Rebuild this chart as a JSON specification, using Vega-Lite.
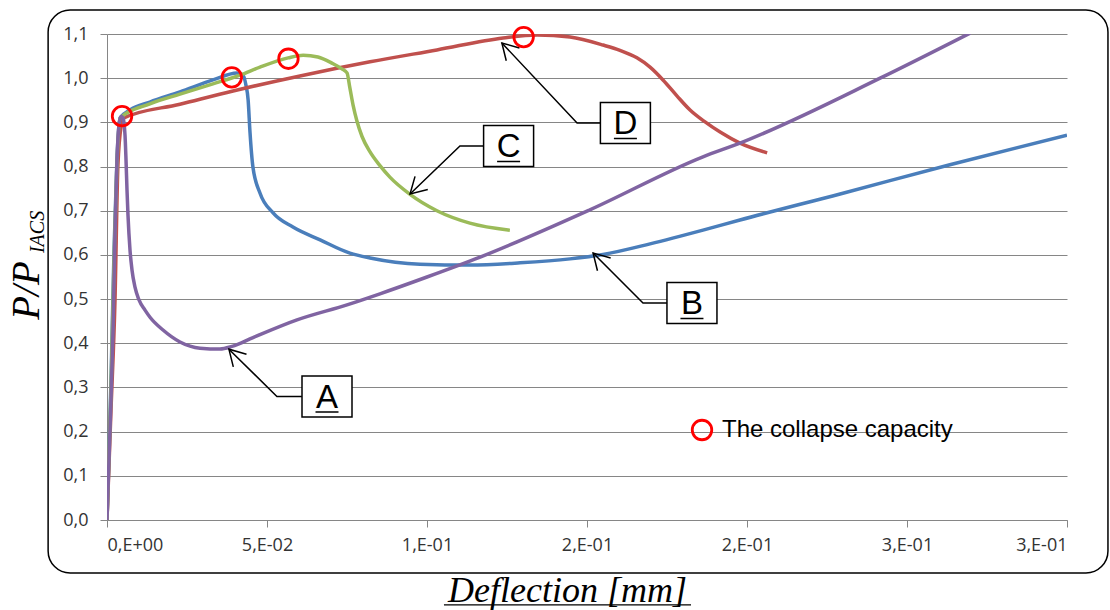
{
  "$schema": "https://vega.github.io/schema/vega-lite/v6.json",
  "width": 960,
  "height": 486,
  "autosize": {"type": "none"},
  "padding": {"left": 107, "top": 34, "right": 43, "bottom": 90},
  "background": "white",
  "config": {"view": {"stroke": null}},
  "datasets": {
    "curves": [
      {"s":"B","x":0,"y":0},{"s":"B","x":0.00125,"y":0.317},{"s":"B","x":0.0022,"y":0.611},{"s":"B","x":0.0031,"y":0.815},{"s":"B","x":0.0041,"y":0.91},{"s":"B","x":0.0072,"y":0.928},{"s":"B","x":0.0134,"y":0.946},{"s":"B","x":0.0228,"y":0.969},{"s":"B","x":0.0331,"y":0.996},{"s":"B","x":0.0406,"y":1.012},{"s":"B","x":0.0425,"y":1.007},{"s":"B","x":0.0434,"y":0.985},{"s":"B","x":0.0441,"y":0.951},{"s":"B","x":0.0447,"y":0.876},{"s":"B","x":0.0456,"y":0.799},{"s":"B","x":0.0478,"y":0.74},{"s":"B","x":0.0519,"y":0.695},{"s":"B","x":0.0581,"y":0.663},{"s":"B","x":0.0666,"y":0.634},{"s":"B","x":0.0759,"y":0.604},{"s":"B","x":0.0822,"y":0.593},{"s":"B","x":0.0978,"y":0.579},{"s":"B","x":0.1134,"y":0.577},{"s":"B","x":0.1291,"y":0.582},{"s":"B","x":0.1447,"y":0.591},{"s":"B","x":0.155,"y":0.601},{"s":"B","x":0.1697,"y":0.625},{"s":"B","x":0.18625,"y":0.656},{"s":"B","x":0.1978,"y":0.679},{"s":"B","x":0.2291,"y":0.738},{"s":"B","x":0.2634,"y":0.804},{"s":"B","x":0.3,"y":0.871},
      {"s":"D","x":0,"y":0},{"s":"D","x":0.00125,"y":0.249},{"s":"D","x":0.0025,"y":0.498},{"s":"D","x":0.0034,"y":0.8},{"s":"D","x":0.0044,"y":0.89},{"s":"D","x":0.0053,"y":0.91},{"s":"D","x":0.0228,"y":0.941},{"s":"D","x":0.0394,"y":0.971},{"s":"D","x":0.0603,"y":1.005},{"s":"D","x":0.0822,"y":1.037},{"s":"D","x":0.1031,"y":1.064},{"s":"D","x":0.1238,"y":1.091},{"s":"D","x":0.1344,"y":1.098},{"s":"D","x":0.1447,"y":1.093},{"s":"D","x":0.155,"y":1.075},{"s":"D","x":0.1603,"y":1.063},{"s":"D","x":0.1656,"y":1.046},{"s":"D","x":0.1697,"y":1.025},{"s":"D","x":0.17375,"y":0.996},{"s":"D","x":0.1781,"y":0.96},{"s":"D","x":0.1822,"y":0.928},{"s":"D","x":0.1869,"y":0.901},{"s":"D","x":0.1916,"y":0.878},{"s":"D","x":0.1978,"y":0.853},{"s":"D","x":0.2063,"y":0.831},
      {"s":"C","x":0,"y":0},{"s":"C","x":0.00125,"y":0.294},{"s":"C","x":0.0022,"y":0.588},{"s":"C","x":0.0031,"y":0.804},{"s":"C","x":0.0041,"y":0.91},{"s":"C","x":0.0134,"y":0.942},{"s":"C","x":0.0228,"y":0.964},{"s":"C","x":0.0331,"y":0.987},{"s":"C","x":0.0416,"y":1.007},{"s":"C","x":0.0478,"y":1.025},{"s":"C","x":0.0566,"y":1.046},{"s":"C","x":0.0613,"y":1.052},{"s":"C","x":0.0659,"y":1.048},{"s":"C","x":0.0703,"y":1.034},{"s":"C","x":0.0734,"y":1.021},{"s":"C","x":0.075,"y":1.012},{"s":"C","x":0.0759,"y":0.978},{"s":"C","x":0.0769,"y":0.939},{"s":"C","x":0.0781,"y":0.903},{"s":"C","x":0.0797,"y":0.868},{"s":"C","x":0.0822,"y":0.833},{"s":"C","x":0.0853,"y":0.802},{"s":"C","x":0.0884,"y":0.776},{"s":"C","x":0.0947,"y":0.737},{"s":"C","x":0.1031,"y":0.7},{"s":"C","x":0.1134,"y":0.672},{"s":"C","x":0.1259,"y":0.656},
      {"s":"A","x":0,"y":0},{"s":"A","x":0.00094,"y":0.204},{"s":"A","x":0.00188,"y":0.43},{"s":"A","x":0.0025,"y":0.65},{"s":"A","x":0.00313,"y":0.815},{"s":"A","x":0.00375,"y":0.894},{"s":"A","x":0.00438,"y":0.914},{"s":"A","x":0.005,"y":0.91},{"s":"A","x":0.00563,"y":0.871},{"s":"A","x":0.00594,"y":0.815},{"s":"A","x":0.00625,"y":0.747},{"s":"A","x":0.00656,"y":0.69},{"s":"A","x":0.00719,"y":0.611},{"s":"A","x":0.00781,"y":0.566},{"s":"A","x":0.00875,"y":0.527},{"s":"A","x":0.01,"y":0.498},{"s":"A","x":0.01188,"y":0.475},{"s":"A","x":0.01344,"y":0.459},{"s":"A","x":0.0175,"y":0.43},{"s":"A","x":0.02281,"y":0.403},{"s":"A","x":0.02906,"y":0.389},{"s":"A","x":0.03531,"y":0.387},{"s":"A","x":0.03906,"y":0.393},{"s":"A","x":0.04563,"y":0.413},{"s":"A","x":0.05938,"y":0.453},{"s":"A","x":0.075,"y":0.487},{"s":"A","x":0.0853,"y":0.512},{"s":"A","x":0.1,"y":0.55},{"s":"A","x":0.1166,"y":0.595},{"s":"A","x":0.1509,"y":0.702},{"s":"A","x":0.18625,"y":0.822},{"s":"A","x":0.1978,"y":0.853},{"s":"A","x":0.2416,"y":1.0},{"s":"A","x":0.2697,"y":1.102}
    ],
    "capacity": [
      {"x":0.0047,"y":0.914},{"x":0.039,"y":1.002},{"x":0.0567,"y":1.044},{"x":0.1302,"y":1.093}
    ],
    "labels": [
      {"label":"A","x":0.06875,"y":0.2795},
      {"label":"B","x":0.1828,"y":0.4912},
      {"label":"C","x":0.1255,"y":0.8465},
      {"label":"D","x":0.162,"y":0.8986}
    ],
    "arrows": [
      {"label":"A","i":0,"x":0.0609,"y":0.2795},{"label":"A","i":1,"x":0.0531,"y":0.2795},{"label":"A","i":2,"x":0.0381,"y":0.3866},
      {"label":"B","i":0,"x":0.175,"y":0.4912},{"label":"B","i":1,"x":0.1675,"y":0.4912},{"label":"B","i":2,"x":0.1519,"y":0.6043},
      {"label":"C","i":0,"x":0.1178,"y":0.8465},{"label":"C","i":1,"x":0.1103,"y":0.8465},{"label":"C","i":2,"x":0.0947,"y":0.7379},
      {"label":"D","i":0,"x":0.1544,"y":0.8986},{"label":"D","i":1,"x":0.1469,"y":0.8986},{"label":"D","i":2,"x":0.1234,"y":1.0797}
    ]
  },
  "layer": [
    {
      "data": {"values": [{}]},
      "mark": {"type": "rect", "fill": null, "stroke": "black", "strokeWidth": 1.5, "cornerRadius": 22},
      "encoding": {
        "x": {"datum": -0.0184, "type": "quantitative", "scale": {"domain": [0, 0.3], "nice": false, "zero": false},
          "axis": {
            "values": [0, 0.05, 0.1, 0.15, 0.2, 0.25, 0.3],
            "labelExpr": "['0,E+00','5,E-02','1,E-01','2,E-01','2,E-01','3,E-01','3,E-01'][round(datum.value*20)]",
            "grid": false, "domainColor": "#868686", "tickColor": "#868686", "tickSize": 7,
            "labelFont": "Open Sans", "labelFontSize": 18, "labelColor": "#333333", "labelPadding": 9,
            "title": "Deflection [mm]", "titleFont": "Liberation Serif", "titleFontStyle": "italic", "titleFontWeight": "normal",
            "titleFontSize": 36, "titleColor": "black", "titleX": 460, "titleY": 81, "titleBaseline": "alphabetic", "titleAlign": "center", "titleAnchor": null
          }},
        "x2": {"datum": 0.3128},
        "y": {"datum": 1.1544, "type": "quantitative", "scale": {"domain": [0, 1.1], "nice": false, "zero": false},
          "axis": {
            "values": [0, 0.1, 0.2, 0.3, 0.4, 0.5, 0.6, 0.7, 0.8, 0.9, 1.0, 1.1],
            "labelExpr": "replace(format(datum.value, '.1f'), '.', ',')",
            "grid": true, "gridColor": "#868686", "gridWidth": 1, "domainColor": "#868686", "tickColor": "#868686", "tickSize": 7,
            "labelFont": "Open Sans", "labelFontSize": 18, "labelColor": "#333333", "labelPadding": 12,
            "title": "P/P", "titleFont": "Liberation Serif", "titleFontStyle": "italic", "titleFontWeight": "normal",
            "titleFontSize": 39, "titleColor": "black", "titleX": -69, "titleY": 256, "titleAngle": 270,
            "titleBaseline": "alphabetic", "titleAlign": "center", "titleAnchor": null
          }},
        "y2": {"datum": -0.12}
      }
    },
    {
      "data": {"values": [{}]},
      "mark": {"type": "rule", "color": "black", "strokeWidth": 1.3},
      "encoding": {
        "x": {"datum": 0.1053, "type": "quantitative"},
        "x2": {"datum": 0.1825},
        "y": {"datum": -0.192, "type": "quantitative"}
      }
    },
    {
      "data": {"values": [{"t": "IACS"}]},
      "mark": {"type": "text", "font": "Liberation Serif", "fontStyle": "italic", "fontSize": 20, "angle": 270, "align": "center", "baseline": "alphabetic", "color": "black"},
      "encoding": {
        "x": {"datum": -0.0197, "type": "quantitative"},
        "y": {"datum": 0.652, "type": "quantitative"},
        "text": {"field": "t"}
      }
    },
    {
      "data": {"name": "curves"},
      "mark": {"type": "line", "interpolate": "monotone", "strokeWidth": 3.5, "clip": true},
      "encoding": {
        "x": {"field": "x", "type": "quantitative"},
        "y": {"field": "y", "type": "quantitative"},
        "color": {"field": "s", "type": "nominal", "scale": {"domain": ["A", "B", "C", "D"], "range": ["#8064A2", "#4A7EBB", "#9BBB59", "#C0504D"]}, "legend": null},
        "order": {"field": "x", "type": "quantitative"}
      }
    },
    {
      "data": {"name": "arrows"},
      "mark": {"type": "line", "color": "black", "strokeWidth": 1.5},
      "encoding": {
        "x": {"field": "x", "type": "quantitative"},
        "y": {"field": "y", "type": "quantitative"},
        "detail": {"field": "label"},
        "order": {"field": "i", "type": "quantitative"}
      }
    },
    {
      "data": {"name": "arrows"},
      "transform": [{"filter": "datum.i == 2"}],
      "mark": {"type": "point", "shape": "M -1 -0.58 L 0 0 L -1 0.58", "filled": false, "color": "black", "strokeWidth": 1.5, "size": 1000, "opacity": 1},
      "encoding": {
        "x": {"field": "x", "type": "quantitative"},
        "y": {"field": "y", "type": "quantitative"},
        "angle": {"condition": {"test": "datum.label == 'C'", "value": 136}, "value": 226}
      }
    },
    {
      "data": {"name": "labels"},
      "mark": {"type": "point", "shape": "M -1 -0.82 H 1 V 0.82 H -1 Z M -0.46 0.62 H 0.46", "filled": false, "fill": "white", "fillOpacity": 1, "stroke": "black", "strokeWidth": 1.5, "size": 2500, "opacity": 1},
      "encoding": {
        "x": {"field": "x", "type": "quantitative"},
        "y": {"field": "y", "type": "quantitative"}
      }
    },
    {
      "data": {"name": "labels"},
      "mark": {"type": "text", "font": "Liberation Sans", "fontSize": 33, "baseline": "alphabetic", "align": "center", "dy": 11, "color": "black"},
      "encoding": {
        "x": {"field": "x", "type": "quantitative"},
        "y": {"field": "y", "type": "quantitative"},
        "text": {"field": "label"}
      }
    },
    {
      "data": {"name": "capacity"},
      "mark": {"type": "point", "shape": "circle", "filled": false, "strokeWidth": 2.8, "size": 380, "opacity": 1},
      "encoding": {
        "x": {"field": "x", "type": "quantitative"},
        "y": {"field": "y", "type": "quantitative"},
        "stroke": {"datum": "The collapse capacity", "type": "nominal", "scale": {"range": ["#FF0000"]},
          "legend": {"orient": "none", "legendX": 583, "legendY": 384, "title": null, "padding": 0,
            "labelFont": "Liberation Sans", "labelFontSize": 24, "labelColor": "black", "labelOffset": 8, "labelLimit": 0,
            "symbolSize": 380, "symbolStrokeWidth": 2.8, "symbolType": "circle", "symbolFillColor": null}}
      }
    }
  ]
}
